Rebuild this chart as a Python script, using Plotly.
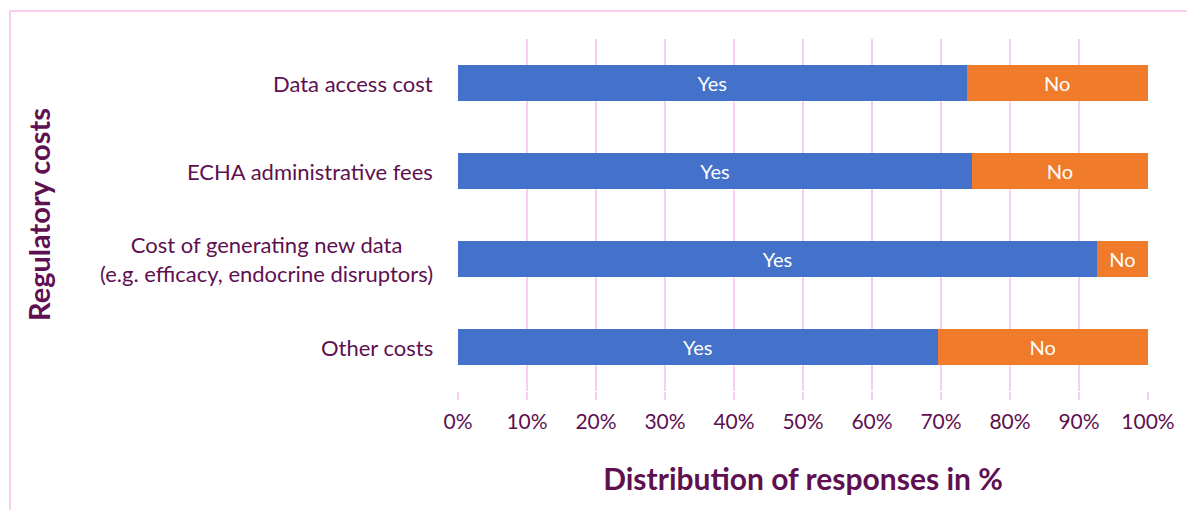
import plotly.graph_objects as go

categories = [
    "Data access cost",
    "ECHA administrative fees",
    "Cost of generating new data<br>(e.g. efficacy, endocrine disruptors)",
    "Other costs",
]
yes_pct = [73.7, 74.5, 92.6, 69.5]
no_pct = [26.3, 25.5, 7.4, 30.5]
tick_vals = [0, 10, 20, 30, 40, 50, 60, 70, 80, 90, 100]
tick_text = [f"{v}%" for v in tick_vals]

TEXT = "#5e1050"
PINK = "#f8cdee"
FONT = "Lato"

# page body has an 8px margin, so the figure is a bit smaller than the window
W, H = 1187, 502
ml, mr, mt, mb = 450, 47, 31, 119
pw, ph = W - ml - mr, H - mt - mb

fig = go.Figure()
fig.add_trace(go.Bar(
    y=categories, x=yes_pct, orientation="h", name="Yes",
    marker=dict(color="#4471c9", line=dict(width=0)),
    text=["Yes"] * len(categories), textposition="inside",
    insidetextanchor="middle",
    textfont=dict(color="white", size=20, family=FONT),
    hoverinfo="x+y",
))
fig.add_trace(go.Bar(
    y=categories, x=no_pct, orientation="h", name="No",
    marker=dict(color="#f07b2b", line=dict(width=0)),
    text=["No"] * len(categories), textposition="inside",
    insidetextanchor="middle",
    textfont=dict(color="white", size=20, family=FONT),
    hoverinfo="x+y",
))

# category labels as centred annotations (multi-line label is centred)
for c in categories:
    fig.add_annotation(
        x=0, xref="paper", y=c, yref="y", xanchor="right", xshift=-23,
        text=c, showarrow=False, align="center",
        font=dict(size=22, color=TEXT, family=FONT),
    )

fig.add_annotation(
    x=(30 - ml) / pw, xref="paper", y=0.5, yref="paper",
    xanchor="center", yanchor="middle",
    text="<b>Regulatory costs</b>", textangle=-90, showarrow=False,
    font=dict(size=29, color=TEXT, family=FONT),
)

# outer pink frame of the chart area (only top and left edges are visible)
x_left = (2 - ml) / pw
y_top = (H - mb - 3) / ph
fig.add_shape(type="line", xref="paper", yref="paper",
              x0=x_left, x1=(W - ml) / pw, y0=y_top, y1=y_top,
              line=dict(color=PINK, width=2), layer="below")
fig.add_shape(type="line", xref="paper", yref="paper",
              x0=x_left, x1=x_left, y0=(-mb) / ph, y1=y_top,
              line=dict(color=PINK, width=2), layer="below")

fig.update_layout(
    barmode="stack", bargap=0.59,
    width=W, height=H,
    margin=dict(l=ml, r=mr, t=mt, b=mb),
    plot_bgcolor="white", paper_bgcolor="white",
    showlegend=False,
    font=dict(family=FONT, color=TEXT),
)
fig.update_xaxes(
    range=[0, 100], tickvals=tick_vals, ticktext=tick_text,
    showgrid=True, gridcolor=PINK, gridwidth=2,
    ticks="outside", ticklen=8, tickcolor=PINK, tickwidth=2,
    ticklabelstandoff=4,
    tickfont=dict(size=21, color=TEXT, family=FONT),
    zeroline=False, showline=False,
    title=dict(text="<b>Distribution of responses in %</b>", standoff=36,
               font=dict(size=30, color=TEXT, family=FONT)),
)
fig.update_yaxes(
    autorange="reversed", showticklabels=False, showgrid=False,
    zeroline=False, showline=False,
)

fig.write_html("out.html")
